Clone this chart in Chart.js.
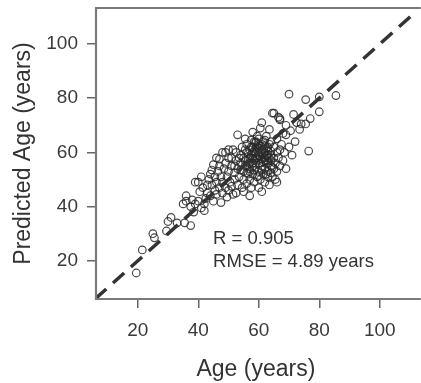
<!DOCTYPE html>
<html>
<head>
<meta charset="utf-8">
<script src="https://cdn.jsdelivr.net/npm/chart.js@4"></script>
<style>
html,body{margin:0;padding:0;background:#fff;overflow:hidden;}
canvas{display:block;}
</style>
</head>
<body>
<canvas id="c" width="421" height="383"></canvas>
<script>
// Chronological age (years)
const ages = [
19.5,21.5,25,25.5,30,33,35.5,37.5,29.5,31,
35,36,37.5,38,39,40,40.5,41,42,42.5,40,41.5,43,44,44.5,45,43.5,45.5,46,42,38.5,36,44,45,46,47,47.5,48,46.5,47,
48,48.5,49,49,49.5,50,50,50.5,51,51,51.5,52,52,52.5,52.5,53,53,53.5,54,54,54.5,54.5,55,55,55.5,55.5,56,56,56,56.5,48,50,53,49.5,47.5,51,52.5,
57,57,57,57.5,57.5,58,58,58,58.5,58.5,59,59,59,59.5,59.5,60,60,60,60,60,60.5,60.5,61,61,61,61.5,61.5,62,62,62,62,62.5,62.5,63,63,63,63,63.5,63.5,64,64,64,64,64.5,64.5,65,65,65,65.5,65.5,66,66,66,66.5,67,67,67,67.5,68,68,68.5,69,69,55,57,58,61,59,62,60,58,56.5,64,61,66,65,63,
55,55.5,56,56.5,57,57,57.5,57.5,58,58,58.5,58.5,59,59,59,59.5,59.5,60,60,60,60.5,60.5,61,61,61.5,61.5,62,62,62.5,62.5,63,63,63.5,63.5,64,56,57,58.5,60,61,62.5,55.5,54,53.5,52,51.5,50,49,47,45.5,43,41,39,44.5,46,
70,70,71,71.5,72.5,73.5,74,75.5,75.5,76.5,80,80,85.5,72,70.5,67,66.5,64.5,77,69
];
// Predicted age (years)
const predicted = [
15.5,24,30,28.5,34.5,34,34,33,31,36,
41,42,40,42.5,41,42,45.5,39.5,41,43,49,47,45,44,48,42,50,46,44.5,38.5,38,44,52,55.5,49,47,51,45,53,57.5,
49,54,47,56,51,46,53,49,55,58,44.5,50,52.5,57,60,48,54,51,56,59,47,62,50,53,57,65,48.5,55,60,52,60,61,66.5,43.5,41.5,47.5,45,
50,54,58,62,47,52,56,60,64,49,54.5,58,61.5,51,66,47,53,56,59,63,50,69,55,57.5,61,52,64,49,54,58,60,66,56,51,53,59,62,48,68.5,55,57,60.5,64,51,54.5,58,62,74.5,50,56,60,65,53,58,72,61,55,63,57,67,60,66.5,54,45.5,44,67.5,71,63.5,62.5,61.5,55,57.5,52.5,45.5,49,54,57,
58,61,63,59.5,61,56,59,64.5,58,62,57,60.5,56,60,64,58,62,57.5,60,65,58.5,62.5,59.5,63,56.5,60,57,64.5,59,61.5,56,60.5,58,63,59,52.5,53,53.5,51.5,53.5,52,55,53.5,58,55,61,58,60,55,51,48,51,49,53.5,58,
81.5,62,59,74,71,68.5,70.5,79.5,70.5,60.5,80.5,75,81,64,68,72.5,73,74.5,72.5,70
];
const xTickValues = [20, 40, 60, 80, 100];
const yTickValues = [20, 40, 60, 80, 100];
const statLines = ['R = 0.905', 'RMSE = 4.89 years'];
const xLabel = 'Age (years)';
const yLabel = 'Predicted Age (years)';

const points = ages.map((a, i) => ({x: a, y: predicted[i]}));
const identityLine = [{x: 0, y: 0}, {x: 120, y: 120}];
const FONT = '"Liberation Sans", Arial, sans-serif';

const boxPlugin = {
  id: 'box',
  afterDatasetsDraw(chart) {
    const {ctx, chartArea: a, scales} = chart;
    ctx.save();
    ctx.strokeStyle = '#7a7a7a';
    ctx.lineWidth = 2.2;
    ctx.beginPath();
    ctx.moveTo(a.right + 5, a.top);
    ctx.lineTo(a.left, a.top);
    ctx.lineTo(a.left, a.bottom);
    ctx.lineTo(a.right + 5, a.bottom);
    ctx.stroke();
    ctx.fillStyle = '#333';
    ctx.font = '18.5px ' + FONT;
    ctx.textBaseline = 'middle';
    ctx.textAlign = 'left';
    const x0 = scales.x.getPixelForValue(44.9);
    ctx.fillText(statLines[0], x0, scales.y.getPixelForValue(28.0));
    ctx.fillText(statLines[1], x0, scales.y.getPixelForValue(19.5));
    ctx.restore();
  }
};

function zeroPad(s) {
  s.paddingTop = 0; s.paddingBottom = 0; s.paddingLeft = 0; s.paddingRight = 0;
}

new Chart(document.getElementById('c'), {
  type: 'scatter',
  data: {
    datasets: [
      {
        type: 'line',
        data: identityLine,
        borderColor: '#333',
        borderWidth: 3.5,
        borderDash: [15, 9],
        pointRadius: 0,
        fill: false,
        order: 0
      },
      {
        data: points,
        pointStyle: 'circle',
        pointRadius: 3.8,
        borderWidth: 1.2,
        borderColor: 'rgba(40,40,40,0.85)',
        backgroundColor: 'rgba(0,0,0,0)',
        order: 1
      }
    ]
  },
  options: {
    responsive: false,
    animation: false,
    devicePixelRatio: 1,
    layout: {padding: {top: 8, right: 0, left: 0, bottom: 0}},
    plugins: {legend: {display: false}, tooltip: {enabled: false}},
    scales: {
      x: {
        type: 'linear',
        min: 6.2,
        max: 111.9,
        afterFit(s) { s.height = 84; zeroPad(s); },
        afterBuildTicks(s) { s.ticks = xTickValues.map(v => ({value: v})); },
        grid: {drawOnChartArea: false, drawTicks: true, tickLength: 9, color: '#666', lineWidth: 1.5},
        border: {display: false},
        ticks: {color: '#3a3a3a', padding: 11, maxRotation: 0, font: {size: 19, family: FONT}},
        title: {display: true, text: xLabel, color: '#333', padding: {top: 1, bottom: 0}, font: {size: 23, family: FONT}}
      },
      y: {
        type: 'linear',
        min: 5.9,
        max: 113.3,
        afterFit(s) { s.width = 96; zeroPad(s); },
        afterBuildTicks(s) { s.ticks = yTickValues.map(v => ({value: v})); },
        grid: {drawOnChartArea: false, drawTicks: true, tickLength: 9, color: '#666', lineWidth: 1.5},
        border: {display: false},
        ticks: {color: '#3a3a3a', padding: 9, font: {size: 19, family: FONT}},
        title: {display: true, text: yLabel, color: '#333', padding: {top: 10, bottom: 0}, font: {size: 23, family: FONT}}
      }
    }
  },
  plugins: [boxPlugin]
});
</script>
</body>
</html>
